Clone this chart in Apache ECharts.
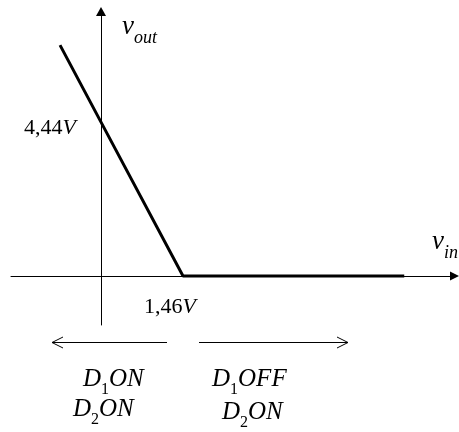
<!DOCTYPE html>
<html>
<head>
<meta charset="utf-8">
<script src="https://cdn.jsdelivr.net/npm/echarts@6/dist/echarts.min.js"></script>
<style>
html,body{margin:0;padding:0;background:#fff;}
#c{width:459px;height:432px;}
</style>
</head>
<body>
<div id="c"></div>
<script>
// transfer characteristic data (vin in V, vout in V)
const vin = [-0.73, 0, 1.46, 5.40];
const vout = [6.66, 4.44, 0, 0];
// labelled values
const yTickValue = 4.44;
const yTickText = '4,44';
const xTickValue = 1.46;
const xTickText = '1,46';
// axis ranges
const xMin = -1.603, xMax = 6.295;
const yMin = -1.413, yMax = 7.63;

const chart = echarts.init(document.getElementById('c'), null, {renderer: 'canvas'});
const serif = 'Liberation Serif';

const option = {
  backgroundColor: '#fff',
  animation: false,
  grid: {left: 11, right: 4.5, top: 11.5, bottom: 107},
  xAxis: {
    type: 'value', min: xMin, max: xMax,
    axisLine: {onZero: true, lineStyle: {color: '#000', width: 1}, symbol: ['none', 'triangle'], symbolSize: [9, 9]},
    axisTick: {show: false}, axisLabel: {show: false}, splitLine: {show: false}
  },
  yAxis: {
    type: 'value', min: yMin, max: yMax,
    axisLine: {onZero: true, lineStyle: {color: '#000', width: 1}, symbol: ['none', 'triangle'], symbolSize: [10, 9]},
    axisTick: {show: false}, axisLabel: {show: false}, splitLine: {show: false}
  },
  series: [{
    type: 'line',
    data: vin.map((x, i) => [x, vout[i]]),
    symbol: 'none',
    lineStyle: {color: '#000', width: 3},
    z: 5
  }]
};
chart.setOption(option);

const pY = chart.convertToPixel({gridIndex: 0}, [0, yTickValue]);
const pX = chart.convertToPixel({gridIndex: 0}, [xTickValue, 0]);

// word with subscript helper: parts [{t, sub, up}]
function subWord(x, y, parts, size, subSize, subDrop) {
  const els = [];
  let cx = x;
  const ctx = document.createElement('canvas').getContext('2d');
  parts.forEach(p => {
    const sz = p.sub ? subSize : size;
    const font = (p.up ? '' : 'italic ') + sz + 'px "' + serif + '"';
    ctx.font = font;
    els.push({type: 'text', x: cx, y: y + (p.sub ? subDrop : 0), silent: true,
      style: {text: p.t, font: font, fill: '#000', verticalAlign: 'bottom'}});
    cx += ctx.measureText(p.t).width;
  });
  return els;
}

const elems = [];
// axis names
elems.push(...subWord(122, 40, [{t: 'v'}, {t: 'out', sub: true}], 27, 18, 7));
elems.push(...subWord(432, 255, [{t: 'v'}, {t: 'in', sub: true}], 27, 18, 7));
// tick annotations
elems.push(...subWord(pY[0] - 77, pY[1] + 17, [{t: yTickText, up: true}, {t: 'V'}], 22, 22, 0));
elems.push(...subWord(pX[0] - 39, pX[1] + 42, [{t: xTickText, up: true}, {t: 'V'}], 22, 22, 0));
// region labels
elems.push(...subWord(83, 392, [{t: 'D'}, {t: '1', sub: true, up: true}, {t: 'ON'}], 25, 16, 6));
elems.push(...subWord(73, 422, [{t: 'D'}, {t: '2', sub: true, up: true}, {t: 'ON'}], 25, 16, 6));
elems.push(...subWord(212, 392, [{t: 'D'}, {t: '1', sub: true, up: true}, {t: 'OFF'}], 25, 16, 6));
elems.push(...subWord(222, 425, [{t: 'D'}, {t: '2', sub: true, up: true}, {t: 'ON'}], 25, 16, 6));
// region arrows
const ls = {stroke: '#000', lineWidth: 1, fill: null};
elems.push({type: 'line', shape: {x1: 52, y1: 342.5, x2: 167, y2: 342.5}, style: ls, silent: true});
elems.push({type: 'polyline', shape: {points: [[63, 337], [52, 342.5], [63, 348]]}, style: ls, silent: true});
elems.push({type: 'line', shape: {x1: 199, y1: 342.5, x2: 348, y2: 342.5}, style: ls, silent: true});
elems.push({type: 'polyline', shape: {points: [[337, 337], [348, 342.5], [337, 348]]}, style: ls, silent: true});

chart.setOption({graphic: {elements: elems}});
</script>
</body>
</html>
